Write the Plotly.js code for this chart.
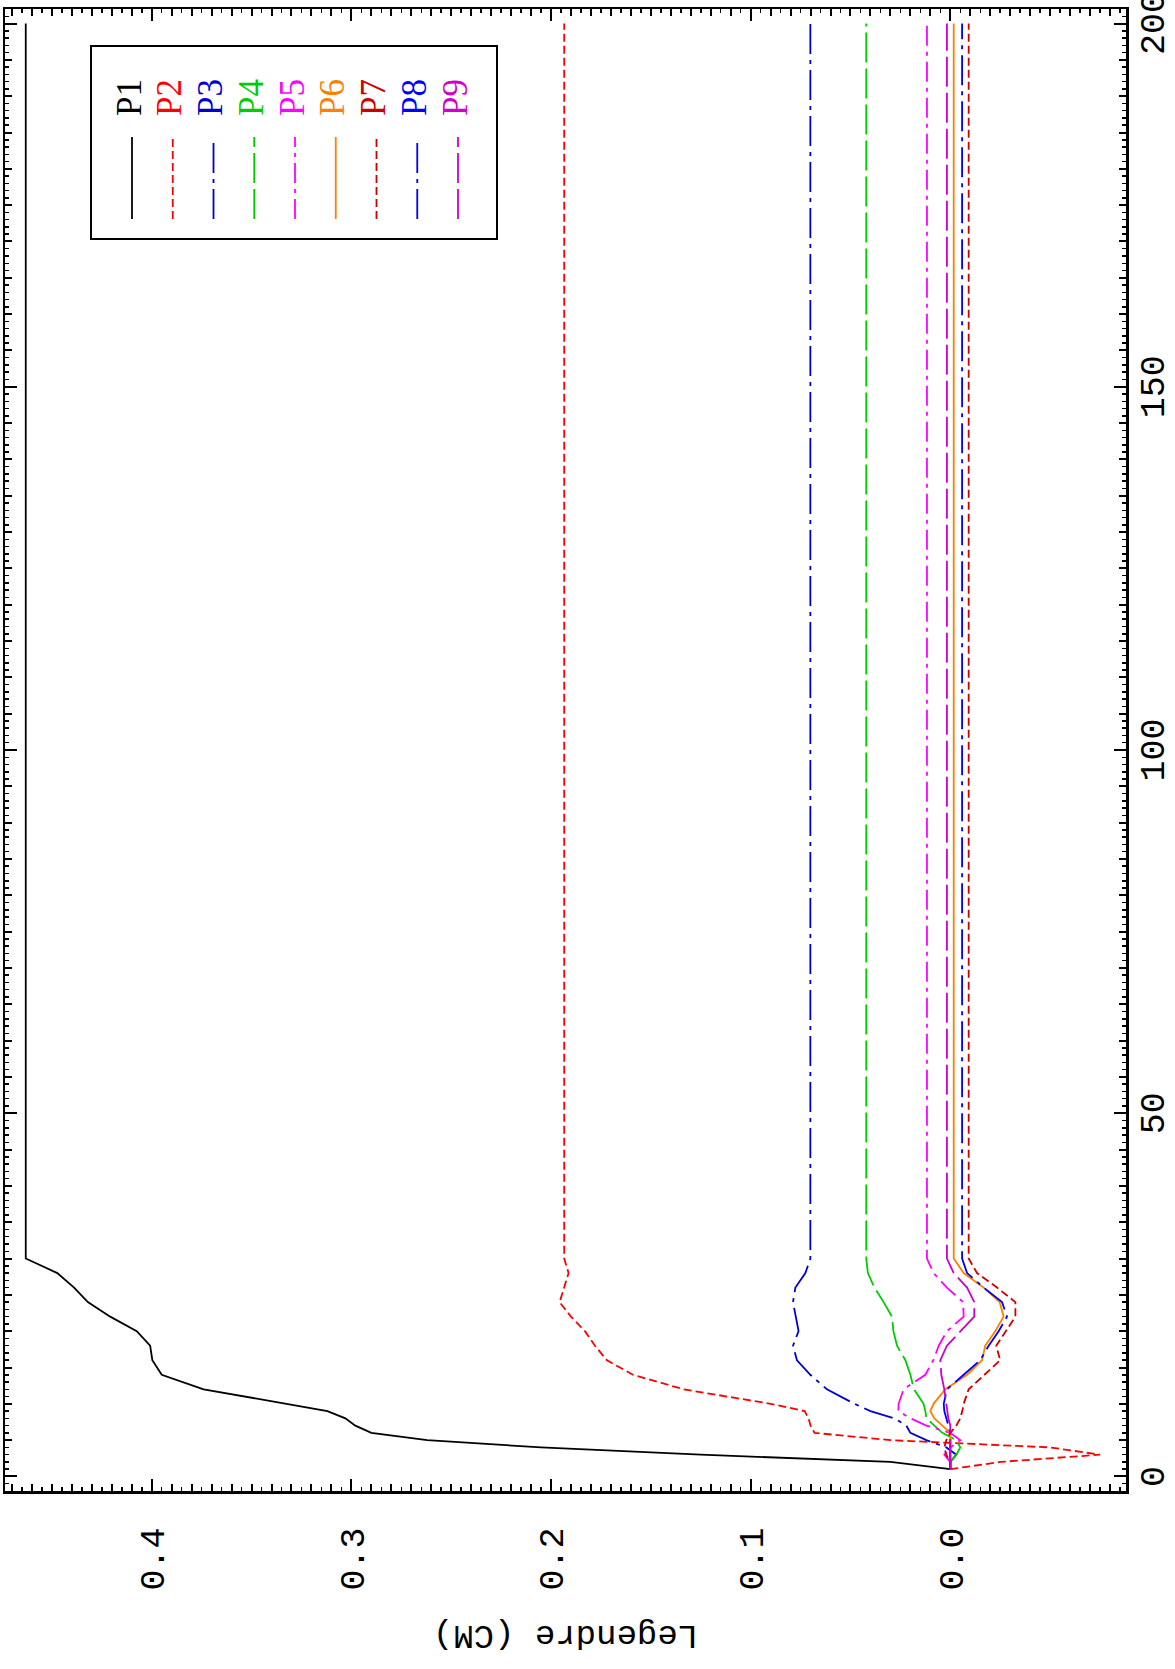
<!DOCTYPE html>
<html>
<head>
<meta charset="utf-8">
<script src="https://cdn.plot.ly/plotly-3.0.1.min.js"></script>
<style>
  html, body { margin: 0; padding: 0; width: 1175px; height: 1669px; overflow: hidden; background: #fff; }
  #plot { position: absolute; left: 0; top: 1669px; width: 1669px; height: 1175px;
          transform-origin: 0 0; transform: rotate(-90deg); }
</style>
</head>
<body>
<div id="plot"></div>
<script>
// ---- data ----
const T  = [1, 2, 3, 4, 5, 6, 7, 8, 9, 10, 12, 14, 16, 18, 20, 22, 24, 26, 28, 30, 200];
const P1 = [0.0, 0.03, 0.125, 0.205, 0.262, 0.29, 0.298, 0.303, 0.312, 0.332, 0.374, 0.395, 0.3997, 0.4008, 0.4075, 0.4208, 0.432, 0.4389, 0.4473, 0.4631, 0.4631];
const P2 = [0.0, -0.025, -0.075, -0.05, 0.03, 0.068, 0.070, 0.071, 0.073, 0.09, 0.1336, 0.159, 0.172, 0.178, 0.183, 0.19, 0.1957, 0.1935, 0.1912, 0.1934, 0.1934];
const P3 = [0, 0, -0.003, 0.002, 0.012, 0.02, 0.022, 0.028, 0.040, 0.048, 0.0618, 0.0701, 0.0768, 0.0788, 0.076, 0.0775, 0.0788, 0.0776, 0.0726, 0.0701, 0.0701];
const P4 = [0, 0, -0.003, -0.005, -0.003, 0.004, 0.008, 0.012, 0.0125, 0.0134, 0.0182, 0.0200, 0.0225, 0.0267, 0.0285, 0.0292, 0.0334, 0.038, 0.0413, 0.0421, 0.0421];
const P5 = [0, 0, 0.003, 0, -0.005, 0, 0.012, 0.02, 0.026, 0.0259, 0.0234, 0.0125, 0.0085, 0.0058, 0.0017, -0.0067, -0.0064, 0.0017, 0.0084, 0.0117, 0.0117];
const P6 = [0, 0, 0, 0, 0, 0, 0.004, 0.008, 0.01, 0.0084, 0.0025, -0.0084, -0.0159, -0.0175, -0.0225, -0.0267, -0.0247, -0.0167, -0.0067, -0.0017, -0.0017];
const P7 = [0, 0, 0.002, 0.003, 0.002, 0, -0.003, -0.005, -0.006, -0.0067, -0.0092, -0.017, -0.025, -0.023, -0.028, -0.0326, -0.0326, -0.0234, -0.0134, -0.0092, -0.0092];
const P8 = [0, 0, 0, 0, 0, 0, 0.001, 0.002, 0.003, 0.0033, 0.0017, -0.0067, -0.0150, -0.0192, -0.0242, -0.0284, -0.0259, -0.0167, -0.0084, -0.0059, -0.0059];
const P9 = [0, 0, 0, 0, 0, 0, 0, 0.001, 0.0015, 0.0017, 0.003, 0.0045, 0.005, 0.0017, -0.005, -0.012, -0.012, -0.0084, -0.0017, 0.0017, 0.0017];

const NAMES  = ['P1', 'P2', 'P3', 'P4', 'P5', 'P6', 'P7', 'P8', 'P9'];
const SERIES = [P1, P2, P3, P4, P5, P6, P7, P8, P9];
const COLORS = ['#000000', '#ff0000', '#0000cd', '#00cd00', '#ff00ff', '#ff8000', '#cd0000', '#0000ff', '#cd00cd'];
const DASHES = ['solid', '8px,4px', '30px,6px,4px,6px', '30px,6px', '20px,6px,4px,6px',
                'solid', '8px,4px', '30px,6px,4px,6px', '30px,6px'];

const X_TICKS = [0, 50, 100, 150, 200];
const Y_TICKS = [0.0, 0.1, 0.2, 0.3, 0.4];
const Y_TITLE = 'Legendre (CM)';

// ---- traces ----
const traces = SERIES.map((s, i) => ({
  x: T, y: s, name: NAMES[i], type: 'scatter', mode: 'lines',
  line: { color: COLORS[i], width: 1.8, dash: DASHES[i] },
  showlegend: false, hoverinfo: 'skip'
}));
// helper trace for the fine-tick overlay axes
traces.push({ x: [], y: [], xaxis: 'x2', yaxis: 'y2', showlegend: false, hoverinfo: 'skip' });

// ---- legend (drawn as shapes + text in the top-right corner) ----
const W = 1669, H = 1175;
const M = { l: 178, r: 9, t: 5, b: 49 };
const PW = W - M.l - M.r, PH = H - M.t - M.b;
const px = u => (u - M.l) / PW;      // canvas x -> paper x
const py = v => 1 - (v - M.t) / PH;  // canvas y -> paper y

const shapes = [{
  type: 'rect', xref: 'paper', yref: 'paper',
  x0: px(1430), x1: px(1623), y0: py(497), y1: py(91),
  line: { color: '#000', width: 2 }, fillcolor: 'rgba(0,0,0,0)'
}];
const annotations = [];
NAMES.forEach((n, i) => {
  const v = 132 + 40.75 * i;
  shapes.push({ type: 'line', xref: 'paper', yref: 'paper',
    x0: px(1450), x1: px(1532), y0: py(v), y1: py(v),
    line: { color: COLORS[i], width: 1.8, dash: DASHES[i] } });
  annotations.push({ xref: 'paper', yref: 'paper', x: px(1551), y: py(v - 3),
    xanchor: 'left', yanchor: 'middle', showarrow: false, text: n,
    font: { family: 'Liberation Serif, serif', size: 35, color: COLORS[i] } });
});

const tickFont = { family: 'Liberation Mono, DejaVu Sans Mono, monospace', size: 35, color: '#000' };

const layout = {
  width: W, height: H,
  margin: M,
  paper_bgcolor: '#fff', plot_bgcolor: '#fff',
  showlegend: false,
  xaxis: {
    range: [-2, 202], tickvals: X_TICKS, ticktext: X_TICKS.map(String),
    ticks: 'inside', ticklen: 12, tickwidth: 2, tickcolor: '#000',
    minor: { dtick: 5, tick0: 0, ticks: 'inside', ticklen: 7, tickwidth: 2, tickcolor: '#000' },
    showline: true, linewidth: 2.5, linecolor: '#000', mirror: 'allticks',
    showgrid: false, zeroline: false, tickfont: tickFont, ticklabelstandoff: -7,
    ticklabeloverflow: 'allow', automargin: false
  },
  yaxis: {
    range: [-0.088, 0.4735], tickvals: Y_TICKS, ticktext: Y_TICKS.map(v => v.toFixed(1)),
    ticks: 'inside', ticklen: 12, tickwidth: 2, tickcolor: '#000',
    minor: { dtick: 0.01, tick0: 0, ticks: 'inside', ticklen: 7, tickwidth: 2, tickcolor: '#000' },
    showline: true, linewidth: 2.5, linecolor: '#000', mirror: 'allticks',
    showgrid: false, zeroline: false, tickfont: tickFont, ticklabelstandoff: 27,
    ticklabeloverflow: 'allow',
    title: { text: Y_TITLE, font: { family: 'Liberation Mono, DejaVu Sans Mono, monospace', size: 34, color: '#000' }, standoff: 25 },
    automargin: false
  },
  xaxis2: {
    overlaying: 'x', anchor: 'y2', range: [-2, 202], dtick: 1, tick0: 0,
    ticks: 'inside', ticklen: 4, tickwidth: 1.5, tickcolor: '#000', mirror: 'ticks',
    showticklabels: false, showgrid: false, zeroline: false, showline: false
  },
  yaxis2: {
    overlaying: 'y', anchor: 'x2', range: [-0.088, 0.4735], dtick: 0.005, tick0: 0,
    ticks: 'inside', ticklen: 4, tickwidth: 1.5, tickcolor: '#000', mirror: 'ticks',
    showticklabels: false, showgrid: false, zeroline: false, showline: false
  },
  shapes: shapes,
  annotations: annotations
};

Plotly.newPlot('plot', traces, layout, { staticPlot: true, displayModeBar: false });
</script>
</body>
</html>
